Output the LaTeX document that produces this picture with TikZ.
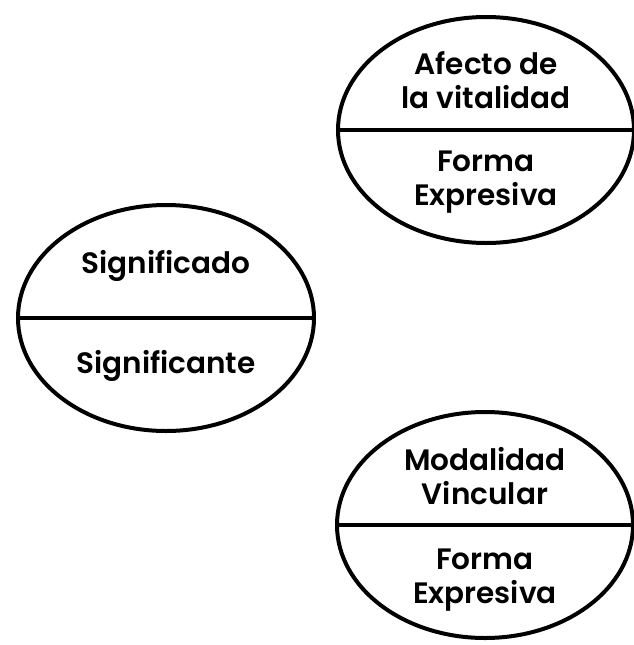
\documentclass[tikz,border=0pt]{standalone}
\usepackage{fontspec}
\setmainfont{Poppins}[BoldFont={Poppins SemiBold}]
\usepackage{tikz}
\usetikzlibrary{shapes.geometric}

\begin{document}
\begin{tikzpicture}[x=1pt, y=-1pt, font=\fontsize{29.5}{34}\selectfont\bfseries,
  sign/.style={draw, ellipse, line width=4pt, minimum width=296pt, minimum height=226pt, inner sep=0pt},
  txt/.style={align=center}]
\useasboundingbox (0, 0) rectangle (634, 645);

\node[sign] (signo) at (166, 318) {};
\node[sign] (vital) at (486, 130) {};
\node[sign] (vinc) at (485, 525) {};

\draw[line width=4pt] (signo.west) -- (signo.east);
\draw[line width=4pt] (vital.west) -- (vital.east);
\draw[line width=4pt] (vinc.west) -- (vinc.east);

\node[txt] (sdo) at (166, 266) {Significado};
\node[txt] (ste) at (166, 366) {Significante};

\node[txt] (afecto) at (486, 80) {Afecto de\\la vitalidad};
\node[txt] (forma1) at (486, 182) {Forma\\Expresiva};

\node[txt] (modal) at (485, 476) {Modalidad\\Vincular};
\node[txt] (forma2) at (485, 580) {Forma\\Expresiva};

\end{tikzpicture}
\end{document}
